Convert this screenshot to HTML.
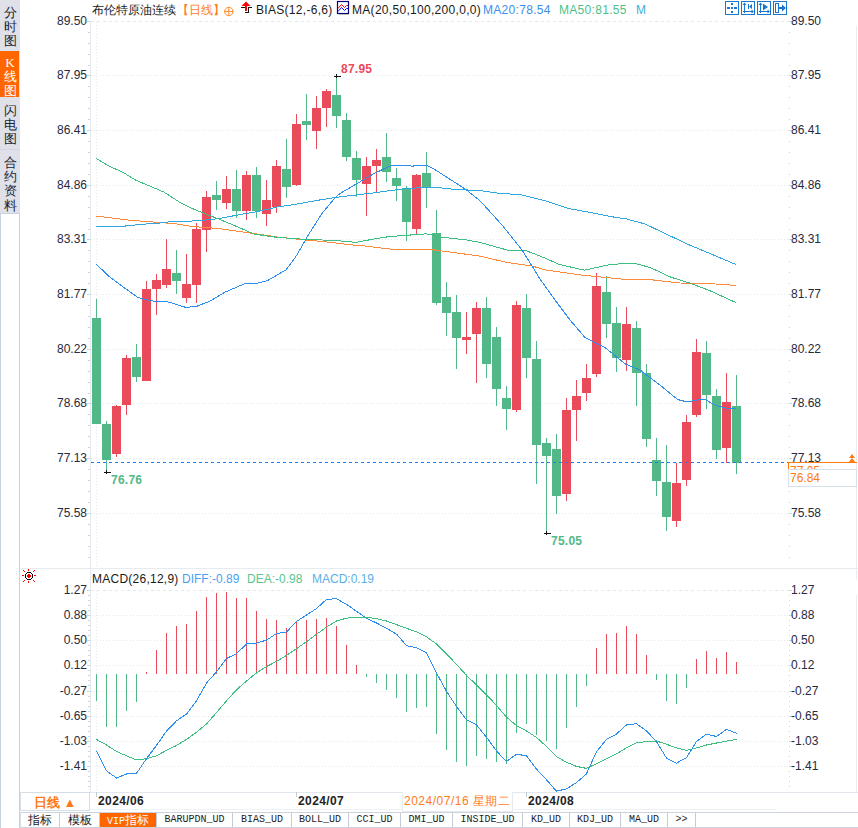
<!DOCTYPE html>
<html><head><meta charset="utf-8">
<style>
html,body{margin:0;padding:0;}
body{width:858px;height:828px;overflow:hidden;background:#fff;position:relative;font-family:"Liberation Sans",sans-serif;font-size:12px;color:#222;}
.abs{position:absolute;white-space:nowrap;}
svg{position:absolute;left:0;top:0;}
.al{position:absolute;right:771px;width:60px;text-align:right;font-size:12px;line-height:14px;color:#262a40;white-space:nowrap;}
.ar{position:absolute;left:791px;font-size:12px;line-height:14px;color:#262a40;white-space:nowrap;}
.side{position:absolute;left:0;top:0;width:20px;height:213px;background:#dfe0e8;}
.tab{position:absolute;left:0;width:20px;text-align:center;font-size:13px;line-height:14.2px;color:#1a2433;font-weight:500;}
.btab{position:absolute;top:813px;height:14px;line-height:14px;font-family:"Liberation Mono",monospace;font-size:10px;color:#222;text-align:center;border-right:1px solid #c5ccd6;box-sizing:border-box;}
</style></head><body>
<div class="side">
 <div class="tab" style="top:6px;">分<br>时<br>图</div>
 <div style="position:absolute;left:0;top:50px;width:20px;height:1px;background:#d8e4ee"></div>
 <div style="position:absolute;left:0;top:51px;width:19px;height:46px;background:#ff6600"></div>
 <div class="tab" style="top:56px;color:#fff;font-family:'Liberation Serif',serif;">K<br>线<br>图</div>
 <div class="tab" style="top:104px;">闪<br>电<br>图</div>
 <div style="position:absolute;left:0;top:149px;width:20px;height:1px;background:#d0d8e2"></div>
 <div class="tab" style="top:156px;">合<br>约<br>资<br>料</div>
</div>
<div style="position:absolute;left:0;top:213px;width:18px;height:615px;border-left:1px solid #c8d2dc;border-right:1px solid #c8d2dc;border-top:1px solid #c8d2dc;"></div>
<svg width="858" height="828" viewBox="0 0 858 828">
<g shape-rendering="crispEdges">
<rect x="90" y="21" width="1" height="771" fill="#e3e9ef"/>
<rect x="856" y="26" width="1" height="554" fill="#e8edf2"/>
<rect x="856" y="595" width="1" height="197" fill="#e8edf2"/>
<line x1="91" y1="21.5" x2="789" y2="21.5" stroke="#e3e9ef" stroke-width="1" stroke-dasharray="3,3"/>
<line x1="91" y1="75.5" x2="789" y2="75.5" stroke="#e3e9ef" stroke-width="1" stroke-dasharray="1,2"/>
<line x1="91" y1="130.5" x2="789" y2="130.5" stroke="#e3e9ef" stroke-width="1" stroke-dasharray="1,2"/>
<line x1="91" y1="185.5" x2="789" y2="185.5" stroke="#e3e9ef" stroke-width="1" stroke-dasharray="1,2"/>
<line x1="91" y1="239.5" x2="789" y2="239.5" stroke="#e3e9ef" stroke-width="1" stroke-dasharray="1,2"/>
<line x1="91" y1="294.5" x2="789" y2="294.5" stroke="#e3e9ef" stroke-width="1" stroke-dasharray="1,2"/>
<line x1="91" y1="349.5" x2="789" y2="349.5" stroke="#e3e9ef" stroke-width="1" stroke-dasharray="1,2"/>
<line x1="91" y1="403.5" x2="789" y2="403.5" stroke="#e3e9ef" stroke-width="1" stroke-dasharray="1,2"/>
<line x1="91" y1="458.5" x2="789" y2="458.5" stroke="#e3e9ef" stroke-width="1" stroke-dasharray="1,2"/>
<line x1="91" y1="513.5" x2="789" y2="513.5" stroke="#e3e9ef" stroke-width="1" stroke-dasharray="1,2"/>
<line x1="91" y1="590.5" x2="789" y2="590.5" stroke="#e3e9ef" stroke-width="1" stroke-dasharray="3,3"/>
<line x1="91" y1="615.5" x2="789" y2="615.5" stroke="#e3e9ef" stroke-width="1" stroke-dasharray="1,2"/>
<line x1="91" y1="640.5" x2="789" y2="640.5" stroke="#e3e9ef" stroke-width="1" stroke-dasharray="1,2"/>
<line x1="91" y1="665.5" x2="789" y2="665.5" stroke="#e3e9ef" stroke-width="1" stroke-dasharray="1,2"/>
<line x1="91" y1="691.5" x2="789" y2="691.5" stroke="#e3e9ef" stroke-width="1" stroke-dasharray="1,2"/>
<line x1="91" y1="716.5" x2="789" y2="716.5" stroke="#e3e9ef" stroke-width="1" stroke-dasharray="1,2"/>
<line x1="91" y1="741.5" x2="789" y2="741.5" stroke="#e3e9ef" stroke-width="1" stroke-dasharray="1,2"/>
<line x1="91" y1="766.5" x2="789" y2="766.5" stroke="#e3e9ef" stroke-width="1" stroke-dasharray="1,2"/>
<line x1="96.5" y1="22" x2="96.5" y2="567" stroke="#e3e9ef" stroke-width="1" stroke-dasharray="1,2"/>
<line x1="96.5" y1="591" x2="96.5" y2="792" stroke="#e3e9ef" stroke-width="1" stroke-dasharray="1,2"/>
<rect x="87" y="21" width="3" height="1" fill="#ccd3db"/>
<rect x="789" y="21" width="3" height="1" fill="#ccd3db"/>
<rect x="88" y="32" width="2" height="1" fill="#ccd3db"/>
<rect x="789" y="32" width="1" height="1" fill="#ccd3db"/>
<rect x="88" y="43" width="2" height="1" fill="#ccd3db"/>
<rect x="789" y="43" width="1" height="1" fill="#ccd3db"/>
<rect x="88" y="54" width="2" height="1" fill="#ccd3db"/>
<rect x="789" y="54" width="1" height="1" fill="#ccd3db"/>
<rect x="88" y="65" width="2" height="1" fill="#ccd3db"/>
<rect x="789" y="65" width="1" height="1" fill="#ccd3db"/>
<rect x="87" y="75" width="3" height="1" fill="#ccd3db"/>
<rect x="789" y="75" width="3" height="1" fill="#ccd3db"/>
<rect x="88" y="86" width="2" height="1" fill="#ccd3db"/>
<rect x="789" y="86" width="1" height="1" fill="#ccd3db"/>
<rect x="88" y="97" width="2" height="1" fill="#ccd3db"/>
<rect x="789" y="97" width="1" height="1" fill="#ccd3db"/>
<rect x="88" y="108" width="2" height="1" fill="#ccd3db"/>
<rect x="789" y="108" width="1" height="1" fill="#ccd3db"/>
<rect x="88" y="119" width="2" height="1" fill="#ccd3db"/>
<rect x="789" y="119" width="1" height="1" fill="#ccd3db"/>
<rect x="87" y="130" width="3" height="1" fill="#ccd3db"/>
<rect x="789" y="130" width="3" height="1" fill="#ccd3db"/>
<rect x="88" y="141" width="2" height="1" fill="#ccd3db"/>
<rect x="789" y="141" width="1" height="1" fill="#ccd3db"/>
<rect x="88" y="152" width="2" height="1" fill="#ccd3db"/>
<rect x="789" y="152" width="1" height="1" fill="#ccd3db"/>
<rect x="88" y="163" width="2" height="1" fill="#ccd3db"/>
<rect x="789" y="163" width="1" height="1" fill="#ccd3db"/>
<rect x="88" y="174" width="2" height="1" fill="#ccd3db"/>
<rect x="789" y="174" width="1" height="1" fill="#ccd3db"/>
<rect x="87" y="185" width="3" height="1" fill="#ccd3db"/>
<rect x="789" y="185" width="3" height="1" fill="#ccd3db"/>
<rect x="88" y="196" width="2" height="1" fill="#ccd3db"/>
<rect x="789" y="196" width="1" height="1" fill="#ccd3db"/>
<rect x="88" y="207" width="2" height="1" fill="#ccd3db"/>
<rect x="789" y="207" width="1" height="1" fill="#ccd3db"/>
<rect x="88" y="218" width="2" height="1" fill="#ccd3db"/>
<rect x="789" y="218" width="1" height="1" fill="#ccd3db"/>
<rect x="88" y="229" width="2" height="1" fill="#ccd3db"/>
<rect x="789" y="229" width="1" height="1" fill="#ccd3db"/>
<rect x="87" y="239" width="3" height="1" fill="#ccd3db"/>
<rect x="789" y="239" width="3" height="1" fill="#ccd3db"/>
<rect x="88" y="250" width="2" height="1" fill="#ccd3db"/>
<rect x="789" y="250" width="1" height="1" fill="#ccd3db"/>
<rect x="88" y="261" width="2" height="1" fill="#ccd3db"/>
<rect x="789" y="261" width="1" height="1" fill="#ccd3db"/>
<rect x="88" y="272" width="2" height="1" fill="#ccd3db"/>
<rect x="789" y="272" width="1" height="1" fill="#ccd3db"/>
<rect x="88" y="283" width="2" height="1" fill="#ccd3db"/>
<rect x="789" y="283" width="1" height="1" fill="#ccd3db"/>
<rect x="87" y="294" width="3" height="1" fill="#ccd3db"/>
<rect x="789" y="294" width="3" height="1" fill="#ccd3db"/>
<rect x="88" y="305" width="2" height="1" fill="#ccd3db"/>
<rect x="789" y="305" width="1" height="1" fill="#ccd3db"/>
<rect x="88" y="316" width="2" height="1" fill="#ccd3db"/>
<rect x="789" y="316" width="1" height="1" fill="#ccd3db"/>
<rect x="88" y="327" width="2" height="1" fill="#ccd3db"/>
<rect x="789" y="327" width="1" height="1" fill="#ccd3db"/>
<rect x="88" y="338" width="2" height="1" fill="#ccd3db"/>
<rect x="789" y="338" width="1" height="1" fill="#ccd3db"/>
<rect x="87" y="349" width="3" height="1" fill="#ccd3db"/>
<rect x="789" y="349" width="3" height="1" fill="#ccd3db"/>
<rect x="88" y="360" width="2" height="1" fill="#ccd3db"/>
<rect x="789" y="360" width="1" height="1" fill="#ccd3db"/>
<rect x="88" y="371" width="2" height="1" fill="#ccd3db"/>
<rect x="789" y="371" width="1" height="1" fill="#ccd3db"/>
<rect x="88" y="382" width="2" height="1" fill="#ccd3db"/>
<rect x="789" y="382" width="1" height="1" fill="#ccd3db"/>
<rect x="88" y="393" width="2" height="1" fill="#ccd3db"/>
<rect x="789" y="393" width="1" height="1" fill="#ccd3db"/>
<rect x="87" y="403" width="3" height="1" fill="#ccd3db"/>
<rect x="789" y="403" width="3" height="1" fill="#ccd3db"/>
<rect x="88" y="414" width="2" height="1" fill="#ccd3db"/>
<rect x="789" y="414" width="1" height="1" fill="#ccd3db"/>
<rect x="88" y="425" width="2" height="1" fill="#ccd3db"/>
<rect x="789" y="425" width="1" height="1" fill="#ccd3db"/>
<rect x="88" y="436" width="2" height="1" fill="#ccd3db"/>
<rect x="789" y="436" width="1" height="1" fill="#ccd3db"/>
<rect x="88" y="447" width="2" height="1" fill="#ccd3db"/>
<rect x="789" y="447" width="1" height="1" fill="#ccd3db"/>
<rect x="87" y="458" width="3" height="1" fill="#ccd3db"/>
<rect x="789" y="458" width="3" height="1" fill="#ccd3db"/>
<rect x="88" y="469" width="2" height="1" fill="#ccd3db"/>
<rect x="789" y="469" width="1" height="1" fill="#ccd3db"/>
<rect x="88" y="480" width="2" height="1" fill="#ccd3db"/>
<rect x="789" y="480" width="1" height="1" fill="#ccd3db"/>
<rect x="88" y="491" width="2" height="1" fill="#ccd3db"/>
<rect x="789" y="491" width="1" height="1" fill="#ccd3db"/>
<rect x="88" y="502" width="2" height="1" fill="#ccd3db"/>
<rect x="789" y="502" width="1" height="1" fill="#ccd3db"/>
<rect x="87" y="513" width="3" height="1" fill="#ccd3db"/>
<rect x="789" y="513" width="3" height="1" fill="#ccd3db"/>
<rect x="88" y="524" width="2" height="1" fill="#ccd3db"/>
<rect x="789" y="524" width="1" height="1" fill="#ccd3db"/>
<rect x="88" y="535" width="2" height="1" fill="#ccd3db"/>
<rect x="789" y="535" width="1" height="1" fill="#ccd3db"/>
<rect x="88" y="546" width="2" height="1" fill="#ccd3db"/>
<rect x="789" y="546" width="1" height="1" fill="#ccd3db"/>
<rect x="88" y="557" width="2" height="1" fill="#ccd3db"/>
<rect x="789" y="557" width="1" height="1" fill="#ccd3db"/>
<rect x="87" y="590" width="3" height="1" fill="#ccd3db"/>
<rect x="789" y="590" width="3" height="1" fill="#ccd3db"/>
<rect x="88" y="595" width="2" height="1" fill="#ccd3db"/>
<rect x="789" y="595" width="1" height="1" fill="#ccd3db"/>
<rect x="88" y="600" width="2" height="1" fill="#ccd3db"/>
<rect x="789" y="600" width="1" height="1" fill="#ccd3db"/>
<rect x="88" y="605" width="2" height="1" fill="#ccd3db"/>
<rect x="789" y="605" width="1" height="1" fill="#ccd3db"/>
<rect x="88" y="610" width="2" height="1" fill="#ccd3db"/>
<rect x="789" y="610" width="1" height="1" fill="#ccd3db"/>
<rect x="87" y="615" width="3" height="1" fill="#ccd3db"/>
<rect x="789" y="615" width="3" height="1" fill="#ccd3db"/>
<rect x="88" y="620" width="2" height="1" fill="#ccd3db"/>
<rect x="789" y="620" width="1" height="1" fill="#ccd3db"/>
<rect x="88" y="625" width="2" height="1" fill="#ccd3db"/>
<rect x="789" y="625" width="1" height="1" fill="#ccd3db"/>
<rect x="88" y="630" width="2" height="1" fill="#ccd3db"/>
<rect x="789" y="630" width="1" height="1" fill="#ccd3db"/>
<rect x="88" y="635" width="2" height="1" fill="#ccd3db"/>
<rect x="789" y="635" width="1" height="1" fill="#ccd3db"/>
<rect x="87" y="640" width="3" height="1" fill="#ccd3db"/>
<rect x="789" y="640" width="3" height="1" fill="#ccd3db"/>
<rect x="88" y="645" width="2" height="1" fill="#ccd3db"/>
<rect x="789" y="645" width="1" height="1" fill="#ccd3db"/>
<rect x="88" y="650" width="2" height="1" fill="#ccd3db"/>
<rect x="789" y="650" width="1" height="1" fill="#ccd3db"/>
<rect x="88" y="655" width="2" height="1" fill="#ccd3db"/>
<rect x="789" y="655" width="1" height="1" fill="#ccd3db"/>
<rect x="88" y="660" width="2" height="1" fill="#ccd3db"/>
<rect x="789" y="660" width="1" height="1" fill="#ccd3db"/>
<rect x="87" y="665" width="3" height="1" fill="#ccd3db"/>
<rect x="789" y="665" width="3" height="1" fill="#ccd3db"/>
<rect x="88" y="670" width="2" height="1" fill="#ccd3db"/>
<rect x="789" y="670" width="1" height="1" fill="#ccd3db"/>
<rect x="88" y="675" width="2" height="1" fill="#ccd3db"/>
<rect x="789" y="675" width="1" height="1" fill="#ccd3db"/>
<rect x="88" y="680" width="2" height="1" fill="#ccd3db"/>
<rect x="789" y="680" width="1" height="1" fill="#ccd3db"/>
<rect x="88" y="685" width="2" height="1" fill="#ccd3db"/>
<rect x="789" y="685" width="1" height="1" fill="#ccd3db"/>
<rect x="87" y="691" width="3" height="1" fill="#ccd3db"/>
<rect x="789" y="691" width="3" height="1" fill="#ccd3db"/>
<rect x="88" y="696" width="2" height="1" fill="#ccd3db"/>
<rect x="789" y="696" width="1" height="1" fill="#ccd3db"/>
<rect x="88" y="701" width="2" height="1" fill="#ccd3db"/>
<rect x="789" y="701" width="1" height="1" fill="#ccd3db"/>
<rect x="88" y="706" width="2" height="1" fill="#ccd3db"/>
<rect x="789" y="706" width="1" height="1" fill="#ccd3db"/>
<rect x="88" y="711" width="2" height="1" fill="#ccd3db"/>
<rect x="789" y="711" width="1" height="1" fill="#ccd3db"/>
<rect x="87" y="716" width="3" height="1" fill="#ccd3db"/>
<rect x="789" y="716" width="3" height="1" fill="#ccd3db"/>
<rect x="88" y="721" width="2" height="1" fill="#ccd3db"/>
<rect x="789" y="721" width="1" height="1" fill="#ccd3db"/>
<rect x="88" y="726" width="2" height="1" fill="#ccd3db"/>
<rect x="789" y="726" width="1" height="1" fill="#ccd3db"/>
<rect x="88" y="731" width="2" height="1" fill="#ccd3db"/>
<rect x="789" y="731" width="1" height="1" fill="#ccd3db"/>
<rect x="88" y="736" width="2" height="1" fill="#ccd3db"/>
<rect x="789" y="736" width="1" height="1" fill="#ccd3db"/>
<rect x="87" y="741" width="3" height="1" fill="#ccd3db"/>
<rect x="789" y="741" width="3" height="1" fill="#ccd3db"/>
<rect x="88" y="746" width="2" height="1" fill="#ccd3db"/>
<rect x="789" y="746" width="1" height="1" fill="#ccd3db"/>
<rect x="88" y="751" width="2" height="1" fill="#ccd3db"/>
<rect x="789" y="751" width="1" height="1" fill="#ccd3db"/>
<rect x="88" y="756" width="2" height="1" fill="#ccd3db"/>
<rect x="789" y="756" width="1" height="1" fill="#ccd3db"/>
<rect x="88" y="761" width="2" height="1" fill="#ccd3db"/>
<rect x="789" y="761" width="1" height="1" fill="#ccd3db"/>
<rect x="87" y="766" width="3" height="1" fill="#ccd3db"/>
<rect x="789" y="766" width="3" height="1" fill="#ccd3db"/>
<rect x="88" y="771" width="2" height="1" fill="#ccd3db"/>
<rect x="789" y="771" width="1" height="1" fill="#ccd3db"/>
<rect x="88" y="776" width="2" height="1" fill="#ccd3db"/>
<rect x="789" y="776" width="1" height="1" fill="#ccd3db"/>
<rect x="88" y="781" width="2" height="1" fill="#ccd3db"/>
<rect x="789" y="781" width="1" height="1" fill="#ccd3db"/>
<rect x="88" y="786" width="2" height="1" fill="#ccd3db"/>
<rect x="789" y="786" width="1" height="1" fill="#ccd3db"/>
<rect x="20" y="568" width="838" height="1" fill="#e6ebf0"/>
<rect x="20" y="792" width="838" height="1" fill="#e1e7ed"/>
<rect x="96" y="792" width="1" height="5" fill="#c4cbd4"/>
<rect x="296" y="792" width="1" height="5" fill="#c4cbd4"/>
<rect x="526" y="792" width="1" height="5" fill="#c4cbd4"/>
<rect x="90" y="809" width="686" height="1" fill="#eef1f5"/>
<rect x="20" y="812" width="838" height="1" fill="#cdd3dc"/>
<rect x="20" y="827" width="838" height="1" fill="#cdd3dc"/>
</g>
<g shape-rendering="crispEdges">
<rect x="96" y="299" width="1" height="125" fill="#52b887"/>
<rect x="92" y="318" width="9" height="106" fill="#52b887"/>
<rect x="106" y="421" width="1" height="51" fill="#52b887"/>
<rect x="102" y="424" width="9" height="36" fill="#52b887"/>
<rect x="116" y="405" width="1" height="52" fill="#e94b5b"/>
<rect x="112" y="406" width="9" height="48" fill="#e94b5b"/>
<rect x="126" y="355" width="1" height="60" fill="#e94b5b"/>
<rect x="122" y="358" width="9" height="47" fill="#e94b5b"/>
<rect x="136" y="344" width="1" height="38" fill="#52b887"/>
<rect x="132" y="357" width="9" height="20" fill="#52b887"/>
<rect x="146" y="281" width="1" height="100" fill="#e94b5b"/>
<rect x="142" y="289" width="9" height="92" fill="#e94b5b"/>
<rect x="156" y="274" width="1" height="41" fill="#e94b5b"/>
<rect x="152" y="280" width="9" height="9" fill="#e94b5b"/>
<rect x="166" y="239" width="1" height="49" fill="#e94b5b"/>
<rect x="162" y="269" width="9" height="16" fill="#e94b5b"/>
<rect x="176" y="250" width="1" height="44" fill="#52b887"/>
<rect x="172" y="273" width="9" height="8" fill="#52b887"/>
<rect x="186" y="254" width="1" height="49" fill="#e94b5b"/>
<rect x="182" y="284" width="9" height="14" fill="#e94b5b"/>
<rect x="196" y="223" width="1" height="80" fill="#e94b5b"/>
<rect x="192" y="229" width="9" height="56" fill="#e94b5b"/>
<rect x="206" y="191" width="1" height="61" fill="#e94b5b"/>
<rect x="202" y="197" width="9" height="33" fill="#e94b5b"/>
<rect x="216" y="181" width="1" height="29" fill="#52b887"/>
<rect x="212" y="195" width="9" height="5" fill="#52b887"/>
<rect x="226" y="176" width="1" height="33" fill="#e94b5b"/>
<rect x="222" y="189" width="9" height="14" fill="#e94b5b"/>
<rect x="236" y="170" width="1" height="48" fill="#52b887"/>
<rect x="232" y="189" width="9" height="22" fill="#52b887"/>
<rect x="246" y="171" width="1" height="49" fill="#e94b5b"/>
<rect x="242" y="175" width="9" height="36" fill="#e94b5b"/>
<rect x="256" y="167" width="1" height="51" fill="#52b887"/>
<rect x="252" y="175" width="9" height="36" fill="#52b887"/>
<rect x="266" y="180" width="1" height="46" fill="#e94b5b"/>
<rect x="262" y="200" width="9" height="14" fill="#e94b5b"/>
<rect x="276" y="160" width="1" height="53" fill="#e94b5b"/>
<rect x="272" y="166" width="9" height="41" fill="#e94b5b"/>
<rect x="286" y="139" width="1" height="59" fill="#52b887"/>
<rect x="282" y="169" width="9" height="18" fill="#52b887"/>
<rect x="296" y="114" width="1" height="72" fill="#e94b5b"/>
<rect x="292" y="124" width="9" height="61" fill="#e94b5b"/>
<rect x="306" y="94" width="1" height="46" fill="#52b887"/>
<rect x="302" y="121" width="9" height="4" fill="#52b887"/>
<rect x="316" y="96" width="1" height="53" fill="#e94b5b"/>
<rect x="312" y="108" width="9" height="23" fill="#e94b5b"/>
<rect x="326" y="89" width="1" height="38" fill="#e94b5b"/>
<rect x="322" y="91" width="9" height="17" fill="#e94b5b"/>
<rect x="336" y="76" width="1" height="52" fill="#52b887"/>
<rect x="332" y="95" width="9" height="21" fill="#52b887"/>
<rect x="346" y="113" width="1" height="48" fill="#52b887"/>
<rect x="342" y="120" width="9" height="37" fill="#52b887"/>
<rect x="356" y="151" width="1" height="46" fill="#52b887"/>
<rect x="352" y="158" width="9" height="22" fill="#52b887"/>
<rect x="366" y="157" width="1" height="59" fill="#e94b5b"/>
<rect x="362" y="166" width="9" height="18" fill="#e94b5b"/>
<rect x="376" y="149" width="1" height="44" fill="#e94b5b"/>
<rect x="372" y="160" width="9" height="6" fill="#e94b5b"/>
<rect x="386" y="133" width="1" height="49" fill="#52b887"/>
<rect x="382" y="157" width="9" height="15" fill="#52b887"/>
<rect x="396" y="168" width="1" height="33" fill="#52b887"/>
<rect x="392" y="178" width="9" height="8" fill="#52b887"/>
<rect x="406" y="186" width="1" height="55" fill="#52b887"/>
<rect x="402" y="189" width="9" height="33" fill="#52b887"/>
<rect x="416" y="174" width="1" height="61" fill="#e94b5b"/>
<rect x="412" y="175" width="9" height="54" fill="#e94b5b"/>
<rect x="426" y="152" width="1" height="56" fill="#52b887"/>
<rect x="422" y="173" width="9" height="14" fill="#52b887"/>
<rect x="436" y="210" width="1" height="95" fill="#52b887"/>
<rect x="432" y="233" width="9" height="70" fill="#52b887"/>
<rect x="446" y="282" width="1" height="54" fill="#52b887"/>
<rect x="442" y="297" width="9" height="16" fill="#52b887"/>
<rect x="456" y="295" width="1" height="74" fill="#52b887"/>
<rect x="452" y="312" width="9" height="26" fill="#52b887"/>
<rect x="466" y="312" width="1" height="42" fill="#e94b5b"/>
<rect x="462" y="337" width="9" height="3" fill="#e94b5b"/>
<rect x="476" y="302" width="1" height="81" fill="#e94b5b"/>
<rect x="472" y="308" width="9" height="26" fill="#e94b5b"/>
<rect x="486" y="297" width="1" height="81" fill="#52b887"/>
<rect x="482" y="308" width="9" height="56" fill="#52b887"/>
<rect x="496" y="327" width="1" height="79" fill="#52b887"/>
<rect x="492" y="337" width="9" height="52" fill="#52b887"/>
<rect x="506" y="386" width="1" height="44" fill="#52b887"/>
<rect x="502" y="398" width="9" height="11" fill="#52b887"/>
<rect x="516" y="301" width="1" height="111" fill="#e94b5b"/>
<rect x="512" y="305" width="9" height="105" fill="#e94b5b"/>
<rect x="526" y="294" width="1" height="84" fill="#52b887"/>
<rect x="522" y="308" width="9" height="50" fill="#52b887"/>
<rect x="536" y="341" width="1" height="143" fill="#52b887"/>
<rect x="532" y="359" width="9" height="86" fill="#52b887"/>
<rect x="546" y="438" width="1" height="95" fill="#52b887"/>
<rect x="542" y="443" width="9" height="13" fill="#52b887"/>
<rect x="556" y="434" width="1" height="80" fill="#52b887"/>
<rect x="552" y="449" width="9" height="47" fill="#52b887"/>
<rect x="566" y="398" width="1" height="103" fill="#e94b5b"/>
<rect x="562" y="410" width="9" height="84" fill="#e94b5b"/>
<rect x="576" y="380" width="1" height="61" fill="#e94b5b"/>
<rect x="572" y="396" width="9" height="14" fill="#e94b5b"/>
<rect x="586" y="364" width="1" height="37" fill="#e94b5b"/>
<rect x="582" y="378" width="9" height="15" fill="#e94b5b"/>
<rect x="596" y="273" width="1" height="104" fill="#e94b5b"/>
<rect x="592" y="286" width="9" height="88" fill="#e94b5b"/>
<rect x="606" y="276" width="1" height="62" fill="#52b887"/>
<rect x="602" y="292" width="9" height="32" fill="#52b887"/>
<rect x="616" y="307" width="1" height="65" fill="#52b887"/>
<rect x="612" y="323" width="9" height="35" fill="#52b887"/>
<rect x="626" y="307" width="1" height="64" fill="#e94b5b"/>
<rect x="622" y="324" width="9" height="36" fill="#e94b5b"/>
<rect x="636" y="321" width="1" height="85" fill="#52b887"/>
<rect x="632" y="328" width="9" height="45" fill="#52b887"/>
<rect x="646" y="364" width="1" height="83" fill="#52b887"/>
<rect x="642" y="373" width="9" height="66" fill="#52b887"/>
<rect x="656" y="438" width="1" height="58" fill="#52b887"/>
<rect x="652" y="460" width="9" height="21" fill="#52b887"/>
<rect x="666" y="445" width="1" height="86" fill="#52b887"/>
<rect x="662" y="482" width="9" height="35" fill="#52b887"/>
<rect x="676" y="463" width="1" height="64" fill="#e94b5b"/>
<rect x="672" y="483" width="9" height="38" fill="#e94b5b"/>
<rect x="686" y="415" width="1" height="71" fill="#e94b5b"/>
<rect x="682" y="422" width="9" height="58" fill="#e94b5b"/>
<rect x="696" y="339" width="1" height="78" fill="#e94b5b"/>
<rect x="692" y="352" width="9" height="63" fill="#e94b5b"/>
<rect x="706" y="341" width="1" height="68" fill="#52b887"/>
<rect x="702" y="353" width="9" height="42" fill="#52b887"/>
<rect x="716" y="389" width="1" height="70" fill="#52b887"/>
<rect x="712" y="396" width="9" height="54" fill="#52b887"/>
<rect x="726" y="373" width="1" height="90" fill="#e94b5b"/>
<rect x="722" y="402" width="9" height="46" fill="#e94b5b"/>
<rect x="736" y="375" width="1" height="99" fill="#52b887"/>
<rect x="732" y="406" width="9" height="57" fill="#52b887"/>
<rect x="96" y="674" width="1" height="27" fill="#52b887"/>
<rect x="106" y="674" width="1" height="53" fill="#52b887"/>
<rect x="116" y="674" width="1" height="53" fill="#52b887"/>
<rect x="126" y="674" width="1" height="37" fill="#52b887"/>
<rect x="136" y="674" width="1" height="28" fill="#52b887"/>
<rect x="146" y="672" width="1" height="2" fill="#e94b5b"/>
<rect x="156" y="650" width="1" height="24" fill="#e94b5b"/>
<rect x="166" y="633" width="1" height="41" fill="#e94b5b"/>
<rect x="176" y="626" width="1" height="48" fill="#e94b5b"/>
<rect x="186" y="624" width="1" height="50" fill="#e94b5b"/>
<rect x="196" y="611" width="1" height="63" fill="#e94b5b"/>
<rect x="206" y="597" width="1" height="77" fill="#e94b5b"/>
<rect x="216" y="593" width="1" height="81" fill="#e94b5b"/>
<rect x="226" y="592" width="1" height="82" fill="#e94b5b"/>
<rect x="236" y="598" width="1" height="76" fill="#e94b5b"/>
<rect x="246" y="598" width="1" height="76" fill="#e94b5b"/>
<rect x="256" y="611" width="1" height="63" fill="#e94b5b"/>
<rect x="266" y="619" width="1" height="55" fill="#e94b5b"/>
<rect x="276" y="620" width="1" height="54" fill="#e94b5b"/>
<rect x="286" y="628" width="1" height="46" fill="#e94b5b"/>
<rect x="296" y="622" width="1" height="52" fill="#e94b5b"/>
<rect x="306" y="620" width="1" height="54" fill="#e94b5b"/>
<rect x="316" y="619" width="1" height="55" fill="#e94b5b"/>
<rect x="326" y="618" width="1" height="56" fill="#e94b5b"/>
<rect x="336" y="626" width="1" height="48" fill="#e94b5b"/>
<rect x="346" y="645" width="1" height="29" fill="#e94b5b"/>
<rect x="356" y="665" width="1" height="9" fill="#e94b5b"/>
<rect x="366" y="674" width="1" height="3" fill="#52b887"/>
<rect x="376" y="674" width="1" height="9" fill="#52b887"/>
<rect x="386" y="674" width="1" height="16" fill="#52b887"/>
<rect x="396" y="674" width="1" height="24" fill="#52b887"/>
<rect x="406" y="674" width="1" height="38" fill="#52b887"/>
<rect x="416" y="674" width="1" height="34" fill="#52b887"/>
<rect x="426" y="674" width="1" height="33" fill="#52b887"/>
<rect x="436" y="674" width="1" height="60" fill="#52b887"/>
<rect x="446" y="674" width="1" height="76" fill="#52b887"/>
<rect x="456" y="674" width="1" height="88" fill="#52b887"/>
<rect x="466" y="674" width="1" height="92" fill="#52b887"/>
<rect x="476" y="674" width="1" height="82" fill="#52b887"/>
<rect x="486" y="674" width="1" height="85" fill="#52b887"/>
<rect x="496" y="674" width="1" height="88" fill="#52b887"/>
<rect x="506" y="674" width="1" height="90" fill="#52b887"/>
<rect x="516" y="674" width="1" height="59" fill="#52b887"/>
<rect x="526" y="674" width="1" height="50" fill="#52b887"/>
<rect x="536" y="674" width="1" height="61" fill="#52b887"/>
<rect x="546" y="674" width="1" height="67" fill="#52b887"/>
<rect x="556" y="674" width="1" height="75" fill="#52b887"/>
<rect x="566" y="674" width="1" height="54" fill="#52b887"/>
<rect x="576" y="674" width="1" height="33" fill="#52b887"/>
<rect x="586" y="674" width="1" height="12" fill="#52b887"/>
<rect x="596" y="648" width="1" height="26" fill="#e94b5b"/>
<rect x="606" y="634" width="1" height="40" fill="#e94b5b"/>
<rect x="616" y="633" width="1" height="41" fill="#e94b5b"/>
<rect x="626" y="626" width="1" height="48" fill="#e94b5b"/>
<rect x="636" y="634" width="1" height="40" fill="#e94b5b"/>
<rect x="646" y="655" width="1" height="19" fill="#e94b5b"/>
<rect x="656" y="674" width="1" height="6" fill="#52b887"/>
<rect x="666" y="674" width="1" height="27" fill="#52b887"/>
<rect x="676" y="674" width="1" height="30" fill="#52b887"/>
<rect x="686" y="674" width="1" height="14" fill="#52b887"/>
<rect x="696" y="659" width="1" height="15" fill="#e94b5b"/>
<rect x="706" y="651" width="1" height="23" fill="#e94b5b"/>
<rect x="716" y="658" width="1" height="16" fill="#e94b5b"/>
<rect x="726" y="652" width="1" height="22" fill="#e94b5b"/>
<rect x="736" y="662" width="1" height="12" fill="#e94b5b"/>
</g>
<polyline fill="none" stroke="#ff8a3c" stroke-width="1" shape-rendering="crispEdges" points="96.3,216.1 114.0,218.3 131.5,220.4 153.2,222.0 175.0,223.7 192.3,226.5 218.0,228.5 248.3,232.7 277.3,237.0 304.4,239.9 325.7,241.8 350.0,244.7 364.5,246.0 392.2,249.3 431.4,249.6 454.2,252.6 480.0,256.1 507.0,262.5 532.0,266.0 545.0,269.8 580.0,274.9 622.0,279.1 649.9,279.6 680.2,283.0 708.2,283.5 735.7,285.4"/>
<polyline fill="none" stroke="#2ea8e0" stroke-width="1" shape-rendering="crispEdges" points="96.3,226.5 120.6,226.5 142.3,224.3 159.7,223.0 172.8,221.5 196.7,220.9 219.3,218.6 238.7,214.8 258.0,211.5 277.3,207.0 296.7,204.1 316.0,200.6 335.3,197.4 372.6,193.0 402.0,189.0 421.6,187.6 437.9,187.6 454.2,189.3 480.0,190.6 497.0,193.0 522.0,195.0 545.0,200.8 568.3,208.5 591.6,212.7 615.0,217.3 626.6,219.0 645.2,224.0 666.2,234.1 689.5,245.0 708.2,252.8 735.7,264.4"/>
<polyline fill="none" stroke="#3dbf82" stroke-width="1" shape-rendering="crispEdges" points="96.3,158.5 109.7,166.5 122.8,172.2 135.8,180.2 148.9,185.7 164.1,192.2 179.3,202.0 192.3,208.5 205.4,213.9 218.0,218.7 238.7,227.3 254.1,234.1 277.3,237.4 304.4,239.3 335.3,240.5 356.3,242.4 372.6,239.2 389.0,236.6 405.3,235.4 426.5,233.8 441.1,237.1 467.0,240.0 480.0,242.4 507.0,250.0 527.0,251.0 545.0,258.1 559.0,264.4 584.6,270.2 610.3,264.4 633.6,263.2 649.9,267.4 670.9,277.2 689.5,283.0 708.2,290.0 735.7,302.4"/>
<polyline fill="none" stroke="#2d8cf0" stroke-width="1" shape-rendering="crispEdges" points="96.3,264.3 109.7,277.0 122.8,286.7 138.0,297.6 151.0,300.9 168.4,302.0 185.8,307.4 196.7,306.3 209.7,301.2 225.1,292.1 245.4,283.4 258.0,283.0 267.7,280.5 286.0,269.9 296.7,255.4 308.3,235.0 321.8,213.8 335.3,197.4 340.0,193.5 356.3,184.0 372.6,174.3 389.0,166.4 395.5,165.3 402.0,165.3 411.8,166.1 426.5,165.3 434.6,169.4 446.0,176.7 457.5,184.0 467.2,190.6 480.0,200.7 502.0,225.0 522.0,250.0 534.5,270.0 540.0,279.0 555.0,300.0 570.0,320.0 585.0,337.5 605.0,347.5 625.0,363.8 640.0,370.0 660.0,385.0 677.5,399.5 687.5,402.0 700.0,399.5 705.0,399.5 715.0,405.0 725.0,408.0 736.0,409.0"/>
<polyline fill="none" stroke="#3dbf82" stroke-width="1" shape-rendering="crispEdges" points="96.5,739.4 106.4,745.0 116.6,751.5 126.5,755.8 136.6,760.0 146.5,758.7 156.4,755.8 166.6,750.3 176.5,745.5 186.6,739.4 196.5,732.2 206.7,723.7 216.6,712.4 226.5,700.8 236.4,689.9 246.5,681.0 256.4,673.0 266.6,666.5 276.5,661.4 286.5,655.4 296.4,648.8 306.6,641.6 316.5,634.3 326.6,627.1 336.5,621.0 346.4,618.2 356.6,617.2 366.5,617.4 376.6,618.6 386.5,621.0 396.7,624.7 406.6,628.3 416.5,631.9 426.4,636.8 436.5,644.0 446.4,653.7 456.6,664.5 466.5,675.4 476.5,685.0 486.4,694.7 496.6,705.6 506.4,717.0 516.5,725.6 526.4,730.9 536.5,737.4 546.5,746.5 556.5,756.5 566.6,762.3 576.5,766.4 586.5,768.4 596.6,763.6 606.5,758.7 616.4,753.9 626.5,747.9 636.4,743.0 646.6,741.4 656.5,741.0 666.6,744.3 676.5,747.9 686.6,750.3 696.6,747.9 706.5,745.0 716.6,743.0 726.5,741.1 736.7,739.4"/>
<polyline fill="none" stroke="#2d8cf0" stroke-width="1" shape-rendering="crispEdges" points="96.5,751.0 106.4,770.8 116.6,778.0 126.5,774.0 136.6,773.2 146.5,758.7 156.4,745.5 166.6,731.0 176.5,720.8 186.6,714.0 196.5,700.8 206.7,682.7 216.6,671.8 226.5,658.5 236.4,653.7 246.5,644.0 256.4,643.3 266.6,640.0 276.5,633.6 286.5,632.0 296.4,621.5 306.6,615.0 316.5,608.5 326.6,599.3 336.5,598.8 346.4,604.2 356.6,611.4 366.5,618.2 376.6,623.0 386.5,628.3 396.7,634.3 406.6,645.7 416.5,647.6 426.4,652.5 436.5,673.0 446.4,691.1 456.6,706.8 466.5,719.6 476.5,725.0 486.4,737.0 496.5,751.0 506.3,761.5 516.4,754.3 526.4,755.7 536.6,769.2 546.4,779.7 556.5,791.2 566.7,788.8 576.5,782.5 586.3,774.1 596.6,751.5 606.5,739.4 616.4,734.1 626.5,724.9 636.4,723.7 646.5,731.0 656.4,741.4 666.6,758.3 676.5,763.1 686.6,757.5 696.6,741.4 706.5,734.1 716.6,736.5 726.5,729.3 736.7,733.4"/>
<line x1="91" y1="462.5" x2="788" y2="462.5" stroke="#1a7ff0" stroke-width="1" stroke-dasharray="3,3" shape-rendering="crispEdges"/>
<rect x="334" y="76" width="7" height="1" fill="#111" shape-rendering="crispEdges"/>
<rect x="336" y="74" width="1" height="4" fill="#111" shape-rendering="crispEdges"/>
<rect x="104" y="472" width="7" height="1" fill="#111" shape-rendering="crispEdges"/>
<rect x="106" y="470" width="1" height="4" fill="#111" shape-rendering="crispEdges"/>
<rect x="544" y="533" width="7" height="1" fill="#111" shape-rendering="crispEdges"/>
<rect x="546" y="531" width="1" height="4" fill="#111" shape-rendering="crispEdges"/>
<g shape-rendering="crispEdges">
<rect x="788" y="462" width="69" height="1" fill="#ff7a10"/>
<rect x="788" y="462" width="1" height="7" fill="#ff7a10"/>
<rect x="788.5" y="469.5" width="68" height="17" fill="#fff" stroke="#d8e0e8" stroke-width="1"/>
</g>
<polygon points="848,463 856,463 852,458" fill="#ff7a10"/>
<polygon points="849,458 855,458 852,454" fill="#ff7a10"/>
<g shape-rendering="crispEdges">
<rect x="27" y="572" width="4" height="1" fill="#000"/>
<rect x="27" y="579" width="4" height="1" fill="#000"/>
<rect x="25" y="574" width="1" height="4" fill="#000"/>
<rect x="32" y="574" width="1" height="4" fill="#000"/>
<rect x="26" y="573" width="1" height="1" fill="#000"/>
<rect x="31" y="573" width="1" height="1" fill="#000"/>
<rect x="26" y="578" width="1" height="1" fill="#000"/>
<rect x="31" y="578" width="1" height="1" fill="#000"/>
<rect x="28" y="574" width="2" height="1" fill="#f00"/>
<rect x="27" y="575" width="4" height="2" fill="#f00"/>
<rect x="28" y="577" width="2" height="1" fill="#f00"/>
<rect x="28" y="569" width="1" height="2" fill="#f00"/>
<rect x="28" y="581" width="1" height="2" fill="#f00"/>
<rect x="22" y="575" width="2" height="1" fill="#f00"/>
<rect x="34" y="575" width="2" height="1" fill="#f00"/>
<rect x="23" y="570" width="1" height="1" fill="#f00"/>
<rect x="24" y="571" width="1" height="1" fill="#f00"/>
<rect x="34" y="570" width="1" height="1" fill="#f00"/>
<rect x="33" y="571" width="1" height="1" fill="#f00"/>
<rect x="23" y="581" width="1" height="1" fill="#f00"/>
<rect x="24" y="580" width="1" height="1" fill="#f00"/>
<rect x="34" y="581" width="1" height="1" fill="#f00"/>
<rect x="33" y="580" width="1" height="1" fill="#f00"/>
</g>
<circle cx="228.8" cy="11.5" r="4.2" fill="none" stroke="#ff8a2a" stroke-width="1"/>
<line x1="224.6" y1="11.5" x2="233" y2="11.5" stroke="#ff8a2a" stroke-width="1"/>
<line x1="228.8" y1="7.3" x2="228.8" y2="15.7" stroke="#ff8a2a" stroke-width="1"/>
<g shape-rendering="crispEdges">
<rect x="241" y="7" width="4" height="1" fill="#111"/>
<rect x="245" y="12" width="4" height="1" fill="#111"/>
<rect x="248" y="7" width="1" height="6" fill="#111"/>
<rect x="248" y="7" width="4" height="1" fill="#111"/>
<rect x="245" y="5" width="2" height="6" fill="#ff0000"/>
</g>
<polygon points="241.5,6 250.5,6 246,1.5" fill="#ff0000"/>
<rect x="337.5" y="1.5" width="11" height="12" fill="#fff" stroke="#000080" stroke-width="1.2"/>
<rect x="339" y="14" width="10" height="1" fill="#bbb"/>
<polyline points="338,8.5 341.5,4.5 344.5,7.5 346.5,5.5 348,5.5" fill="none" stroke="#ff0000" stroke-width="1"/>
<polyline points="338,11.5 341.5,7.5 344.5,10.5 346.5,8.5 348,8.5" fill="none" stroke="#0000ff" stroke-width="1"/>
<rect x="725.5" y="1.5" width="13" height="13" fill="#fff" stroke="#1a78d0" stroke-width="1" shape-rendering="crispEdges"/>
<rect x="741.5" y="1.5" width="13" height="13" fill="#fff" stroke="#1a78d0" stroke-width="1" shape-rendering="crispEdges"/>
<rect x="757.5" y="1.5" width="13" height="13" fill="#fff" stroke="#1a78d0" stroke-width="1" shape-rendering="crispEdges"/>
<rect x="773.5" y="1.5" width="13" height="13" fill="#fff" stroke="#1a78d0" stroke-width="1" shape-rendering="crispEdges"/>
<g shape-rendering="crispEdges">
<rect x="731" y="3" width="2" height="2" fill="#1a78d0"/>
<rect x="731" y="7" width="2" height="2" fill="#1a78d0"/>
<rect x="731" y="11" width="2" height="2" fill="#1a78d0"/>
<rect x="727" y="7" width="3" height="2" fill="#1a78d0"/>
<rect x="734" y="7" width="3" height="2" fill="#1a78d0"/>
<rect x="744" y="3" width="1" height="10" fill="#1a78d0"/>
<rect x="743" y="11" width="10" height="1" fill="#1a78d0"/>
<rect x="748" y="4" width="1" height="5" fill="#1a78d0"/>
</g>
<polygon points="744.5,2.5 742.5,5 746.5,5" fill="#1a78d0"/>
<polygon points="754,11.5 751.5,9.5 751.5,13.5" fill="#1a78d0"/>
<polygon points="749,6.5 752,4 752,9" fill="#1a78d0"/>
<rect x="760" y="3" width="1" height="10" fill="#1a78d0" shape-rendering="crispEdges"/>
<rect x="759" y="11" width="10" height="1" fill="#1a78d0" shape-rendering="crispEdges"/>
<polygon points="760.5,2.5 758.5,5 762.5,5" fill="#1a78d0"/>
<polygon points="770,11.5 767.5,9.5 767.5,13.5" fill="#1a78d0"/>
<polygon points="763,3.5 768,7 763,10.5" fill="#1a78d0"/>
<rect x="775.5" y="3.5" width="3" height="9" fill="none" stroke="#1a78d0" stroke-width="1" shape-rendering="crispEdges"/>
<rect x="778" y="7" width="5" height="2" fill="#1a78d0" shape-rendering="crispEdges"/>
<polygon points="786,8 782,4.5 782,11.5" fill="#1a78d0"/>
</svg>
<div class="al" style="top:14px">89.50</div>
<div class="ar" style="top:14px">89.50</div>
<div class="al" style="top:68px">87.95</div>
<div class="ar" style="top:68px">87.95</div>
<div class="al" style="top:123px">86.41</div>
<div class="ar" style="top:123px">86.41</div>
<div class="al" style="top:178px">84.86</div>
<div class="ar" style="top:178px">84.86</div>
<div class="al" style="top:232px">83.31</div>
<div class="ar" style="top:232px">83.31</div>
<div class="al" style="top:287px">81.77</div>
<div class="ar" style="top:287px">81.77</div>
<div class="al" style="top:342px">80.22</div>
<div class="ar" style="top:342px">80.22</div>
<div class="al" style="top:396px">78.68</div>
<div class="ar" style="top:396px">78.68</div>
<div class="al" style="top:451px">77.13</div>
<div class="ar" style="top:451px">77.13</div>
<div class="al" style="top:506px">75.58</div>
<div class="ar" style="top:506px">75.58</div>
<div class="al" style="top:583px">1.27</div>
<div class="ar" style="top:583px">1.27</div>
<div class="al" style="top:608px">0.88</div>
<div class="ar" style="top:608px">0.88</div>
<div class="al" style="top:633px">0.50</div>
<div class="ar" style="top:633px">0.50</div>
<div class="al" style="top:658px">0.12</div>
<div class="ar" style="top:658px">0.12</div>
<div class="al" style="top:684px">-0.27</div>
<div class="ar" style="top:684px">-0.27</div>
<div class="al" style="top:709px">-0.65</div>
<div class="ar" style="top:709px">-0.65</div>
<div class="al" style="top:734px">-1.03</div>
<div class="ar" style="top:734px">-1.03</div>
<div class="al" style="top:759px">-1.41</div>
<div class="ar" style="top:759px">-1.41</div>
<!-- header -->
<div class="abs" style="left:92px;top:3px;line-height:14px;color:#1a1a1a;font-weight:500;">布伦特原油连续</div>
<div class="abs" style="left:177px;top:3px;line-height:14px;color:#ff7a1a;font-weight:500;">【日线】</div>
<div class="abs" style="left:256px;top:3px;line-height:14px;color:#1a1a1a;letter-spacing:0.3px;">BIAS(12,-6,6)</div>
<div class="abs" style="left:352px;top:3px;line-height:14px;color:#1a1a1a;letter-spacing:0.3px;">MA(20,50,100,200,0,0)</div>
<div class="abs" style="left:483px;top:3px;line-height:14px;color:#3b8fe8;letter-spacing:0.3px;">MA20:78.54</div>
<div class="abs" style="left:559px;top:3px;line-height:14px;color:#4cbf8b;letter-spacing:0.3px;">MA50:81.55</div>
<div class="abs" style="left:636px;top:3px;line-height:14px;color:#3aaee0;">M</div>
<!-- hi/lo labels -->
<div class="abs" style="left:341px;top:62px;line-height:14px;color:#e94b5b;font-weight:bold;letter-spacing:0.25px;">87.95</div>
<div class="abs" style="left:111px;top:473px;line-height:14px;color:#52b887;font-weight:bold;letter-spacing:0.25px;">76.76</div>
<div class="abs" style="left:551px;top:534px;line-height:14px;color:#52b887;font-weight:bold;letter-spacing:0.25px;">75.05</div>
<div class="abs" style="left:790px;top:463px;height:6px;overflow:hidden;line-height:14px;color:#ff7a10;"><div style="margin-top:1px">77.05</div></div>
<div class="abs" style="left:790px;top:471px;line-height:14px;color:#ff7a10;">76.84</div>
<!-- macd legend -->
<div class="abs" style="left:92px;top:572px;line-height:14px;color:#1a1a1a;letter-spacing:0.25px;">MACD(26,12,9)</div>
<div class="abs" style="left:182px;top:572px;line-height:14px;color:#4a9ff0;">DIFF:-0.89</div>
<div class="abs" style="left:247px;top:572px;line-height:14px;color:#5ac48e;">DEA:-0.98</div>
<div class="abs" style="left:312px;top:572px;line-height:14px;color:#5ab0e8;">MACD:0.19</div>
<!-- date row -->
<div style="position:absolute;left:20px;top:792px;width:68px;height:17px;border:1px solid #d5dde5;"></div>
<div style="position:absolute;left:20px;top:812px;width:1px;height:16px;background:#d5dde5;"></div>
<div class="abs" style="left:34px;top:796px;line-height:14px;color:#ff7a1a;font-weight:bold;font-size:13px;">日线 ▲</div>
<div class="abs" style="left:98px;top:794px;line-height:14px;color:#222;font-weight:bold;letter-spacing:0.4px;">2024/06</div>
<div class="abs" style="left:298px;top:794px;line-height:14px;color:#222;font-weight:bold;letter-spacing:0.4px;">2024/07</div>
<div style="position:absolute;left:402px;top:792px;width:109px;height:19px;border:1px solid #e6ebf0;border-top:none;background:#fff;"></div>
<div class="abs" style="left:404px;top:794px;line-height:14px;color:#ff7a1a;letter-spacing:0.5px;">2024/07/16 星期二</div>
<div class="abs" style="left:528px;top:794px;line-height:14px;color:#222;font-weight:bold;letter-spacing:0.4px;">2024/08</div>
<!-- bottom tabs -->
<div class="btab" style="left:20px;width:40px;font-family:'Liberation Sans',sans-serif;font-size:12px;">指标</div>
<div class="btab" style="left:60px;width:40px;font-family:'Liberation Sans',sans-serif;font-size:12px;">模板</div>
<div class="btab" style="left:100px;width:57px;background:#ff6600;color:#fff;">VIP<span style="font-family:'Liberation Sans',sans-serif;font-size:12px;">指标</span></div>
<div class="btab" style="left:157px;width:76px;">BARUPDN_UD</div>
<div class="btab" style="left:233px;width:59px;">BIAS_UD</div>
<div class="btab" style="left:292px;width:57px;">BOLL_UD</div>
<div class="btab" style="left:349px;width:52px;">CCI_UD</div>
<div class="btab" style="left:401px;width:52px;">DMI_UD</div>
<div class="btab" style="left:453px;width:70px;">INSIDE_UD</div>
<div class="btab" style="left:523px;width:47px;">KD_UD</div>
<div class="btab" style="left:570px;width:51px;">KDJ_UD</div>
<div class="btab" style="left:621px;width:47px;">MA_UD</div>
<div class="btab" style="left:668px;width:28px;">&gt;&gt;</div>
</body></html>
